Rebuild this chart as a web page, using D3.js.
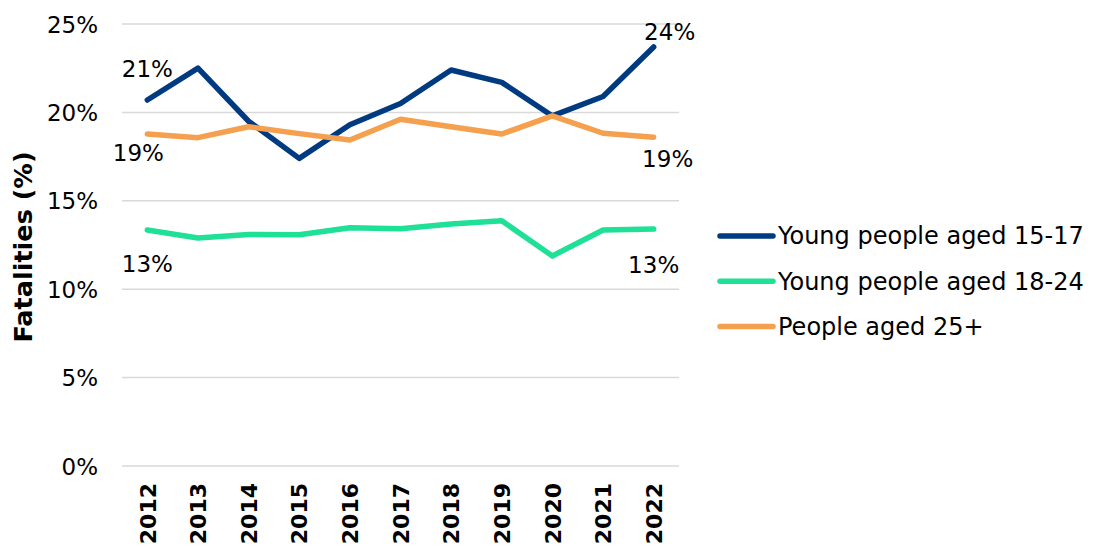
<!DOCTYPE html>
<html>
<head>
<meta charset="utf-8">
<script src="https://cdn.jsdelivr.net/npm/d3@7"></script>
<style>
  html, body { margin: 0; padding: 0; background: #fff; }
  svg { display: block; font-family: "DejaVu Sans", Verdana, sans-serif; }
</style>
</head>
<body>
<svg id="chart" width="1093" height="550"></svg>
<script>
// Share of road fatalities by age group, 2012-2022
const years = [2012, 2013, 2014, 2015, 2016, 2017, 2018, 2019, 2020, 2021, 2022];
const aged15to17 = [20.7, 22.5, 19.5, 17.4, 19.3, 20.5, 22.4, 21.7, 19.8, 20.9, 23.7];
const aged18to24 = [13.35, 12.9, 13.1, 13.08, 13.48, 13.42, 13.69, 13.87, 11.88, 13.35, 13.4];
const aged25plus = [18.78, 18.57, 19.19, 18.8, 18.44, 19.61, 19.19, 18.78, 19.8, 18.82, 18.6];
const yTicks = [0, 5, 10, 15, 20, 25];

const seriesNames = ["Young people aged 15-17", "Young people aged 18-24", "People aged 25+"];
const seriesValues = [aged15to17, aged18to24, aged25plus];
const seriesColors = ["#003a80", "#1ee096", "#f5a04e"];

const FONT = "DejaVu Sans, Verdana, sans-serif";
const svg = d3.select("#chart");
const plot = { left: 122, right: 679, top: 24, bottom: 466 };

const x = d3.scalePoint()
  .domain(years)
  .range([plot.left, plot.right])
  .padding(0.5);

const y = d3.scaleLinear()
  .domain([0, 25])
  .range([plot.bottom, plot.top]);

// Horizontal gridlines
svg.append("g")
  .selectAll("line")
  .data(yTicks)
  .join("line")
  .attr("x1", plot.left)
  .attr("x2", plot.right)
  .attr("y1", d => y(d))
  .attr("y2", d => y(d))
  .attr("stroke", "#d9d9d9")
  .attr("stroke-width", 1.5);

// Y axis tick labels
const yAxis = d3.axisLeft(y)
  .tickValues(yTicks)
  .tickFormat(d => d + "%")
  .tickSize(0)
  .tickPadding(0);

svg.append("g")
  .attr("transform", `translate(${plot.left - 24},0)`)
  .call(yAxis)
  .call(g => g.select(".domain").remove())
  .selectAll("text")
  .attr("font-family", FONT)
  .attr("font-size", 23)
  .attr("fill", "#000")
  .attr("dy", "0.35em");

// X axis: rotated bold year labels
const xAxis = d3.axisBottom(x).tickSize(0).tickPadding(0);
svg.append("g")
  .attr("transform", `translate(0,${plot.bottom})`)
  .call(xAxis)
  .call(g => g.select(".domain").remove())
  .selectAll("text")
  .attr("font-family", FONT)
  .attr("font-size", 22)
  .attr("font-weight", "bold")
  .attr("fill", "#000")
  .attr("text-anchor", "end")
  .attr("transform", "rotate(-90)")
  .attr("x", -17)
  .attr("y", 0)
  .attr("dy", "0.35em");

// Y axis title
svg.append("text")
  .attr("transform", `translate(32,247) rotate(-90)`)
  .attr("text-anchor", "middle")
  .attr("font-size", 25.5)
  .attr("font-weight", "bold")
  .attr("fill", "#000")
  .text("Fatalities (%)");

// Series lines
const line = d3.line()
  .x((d, i) => x(years[i]))
  .y(d => y(d));

svg.append("g")
  .selectAll("path")
  .data(seriesValues)
  .join("path")
  .attr("d", d => line(d))
  .attr("fill", "none")
  .attr("stroke", (d, i) => seriesColors[i])
  .attr("stroke-width", 5.5)
  .attr("stroke-linejoin", "round")
  .attr("stroke-linecap", "round");

// End-point value labels
const first = 0, last = years.length - 1;
const endLabels = [
  { s: 0, i: first, dx: 0, dy: -23 },
  { s: 2, i: first, dx: -9, dy: 27.5 },
  { s: 1, i: first, dx: 0, dy: 42.5 },
  { s: 0, i: last, dx: 16, dy: -6.5 },
  { s: 2, i: last, dx: 14, dy: 29.5 },
  { s: 1, i: last, dx: 0, dy: 43.5 }
];

svg.append("g")
  .selectAll("text")
  .data(endLabels)
  .join("text")
  .attr("x", d => x(years[d.i]) + d.dx)
  .attr("y", d => y(seriesValues[d.s][d.i]) + d.dy)
  .attr("text-anchor", "middle")
  .attr("font-size", 23)
  .attr("fill", "#000")
  .text(d => Math.round(seriesValues[d.s][d.i]) + "%");

// Legend
const legend = svg.append("g")
  .attr("transform", "translate(718,236)");

const item = legend.selectAll("g")
  .data(seriesNames)
  .join("g")
  .attr("transform", (d, i) => `translate(0,${i * 45.2})`);

item.append("line")
  .attr("x1", 2).attr("x2", 55)
  .attr("y1", 0).attr("y2", 0)
  .attr("stroke", (d, i) => seriesColors[i])
  .attr("stroke-width", 5.5)
  .attr("stroke-linecap", "round");

item.append("text")
  .attr("x", 60)
  .attr("y", 0)
  .attr("dy", "0.35em")
  .attr("font-size", 24)
  .attr("fill", "#000")
  .text(d => d);
</script>
</body>
</html>
